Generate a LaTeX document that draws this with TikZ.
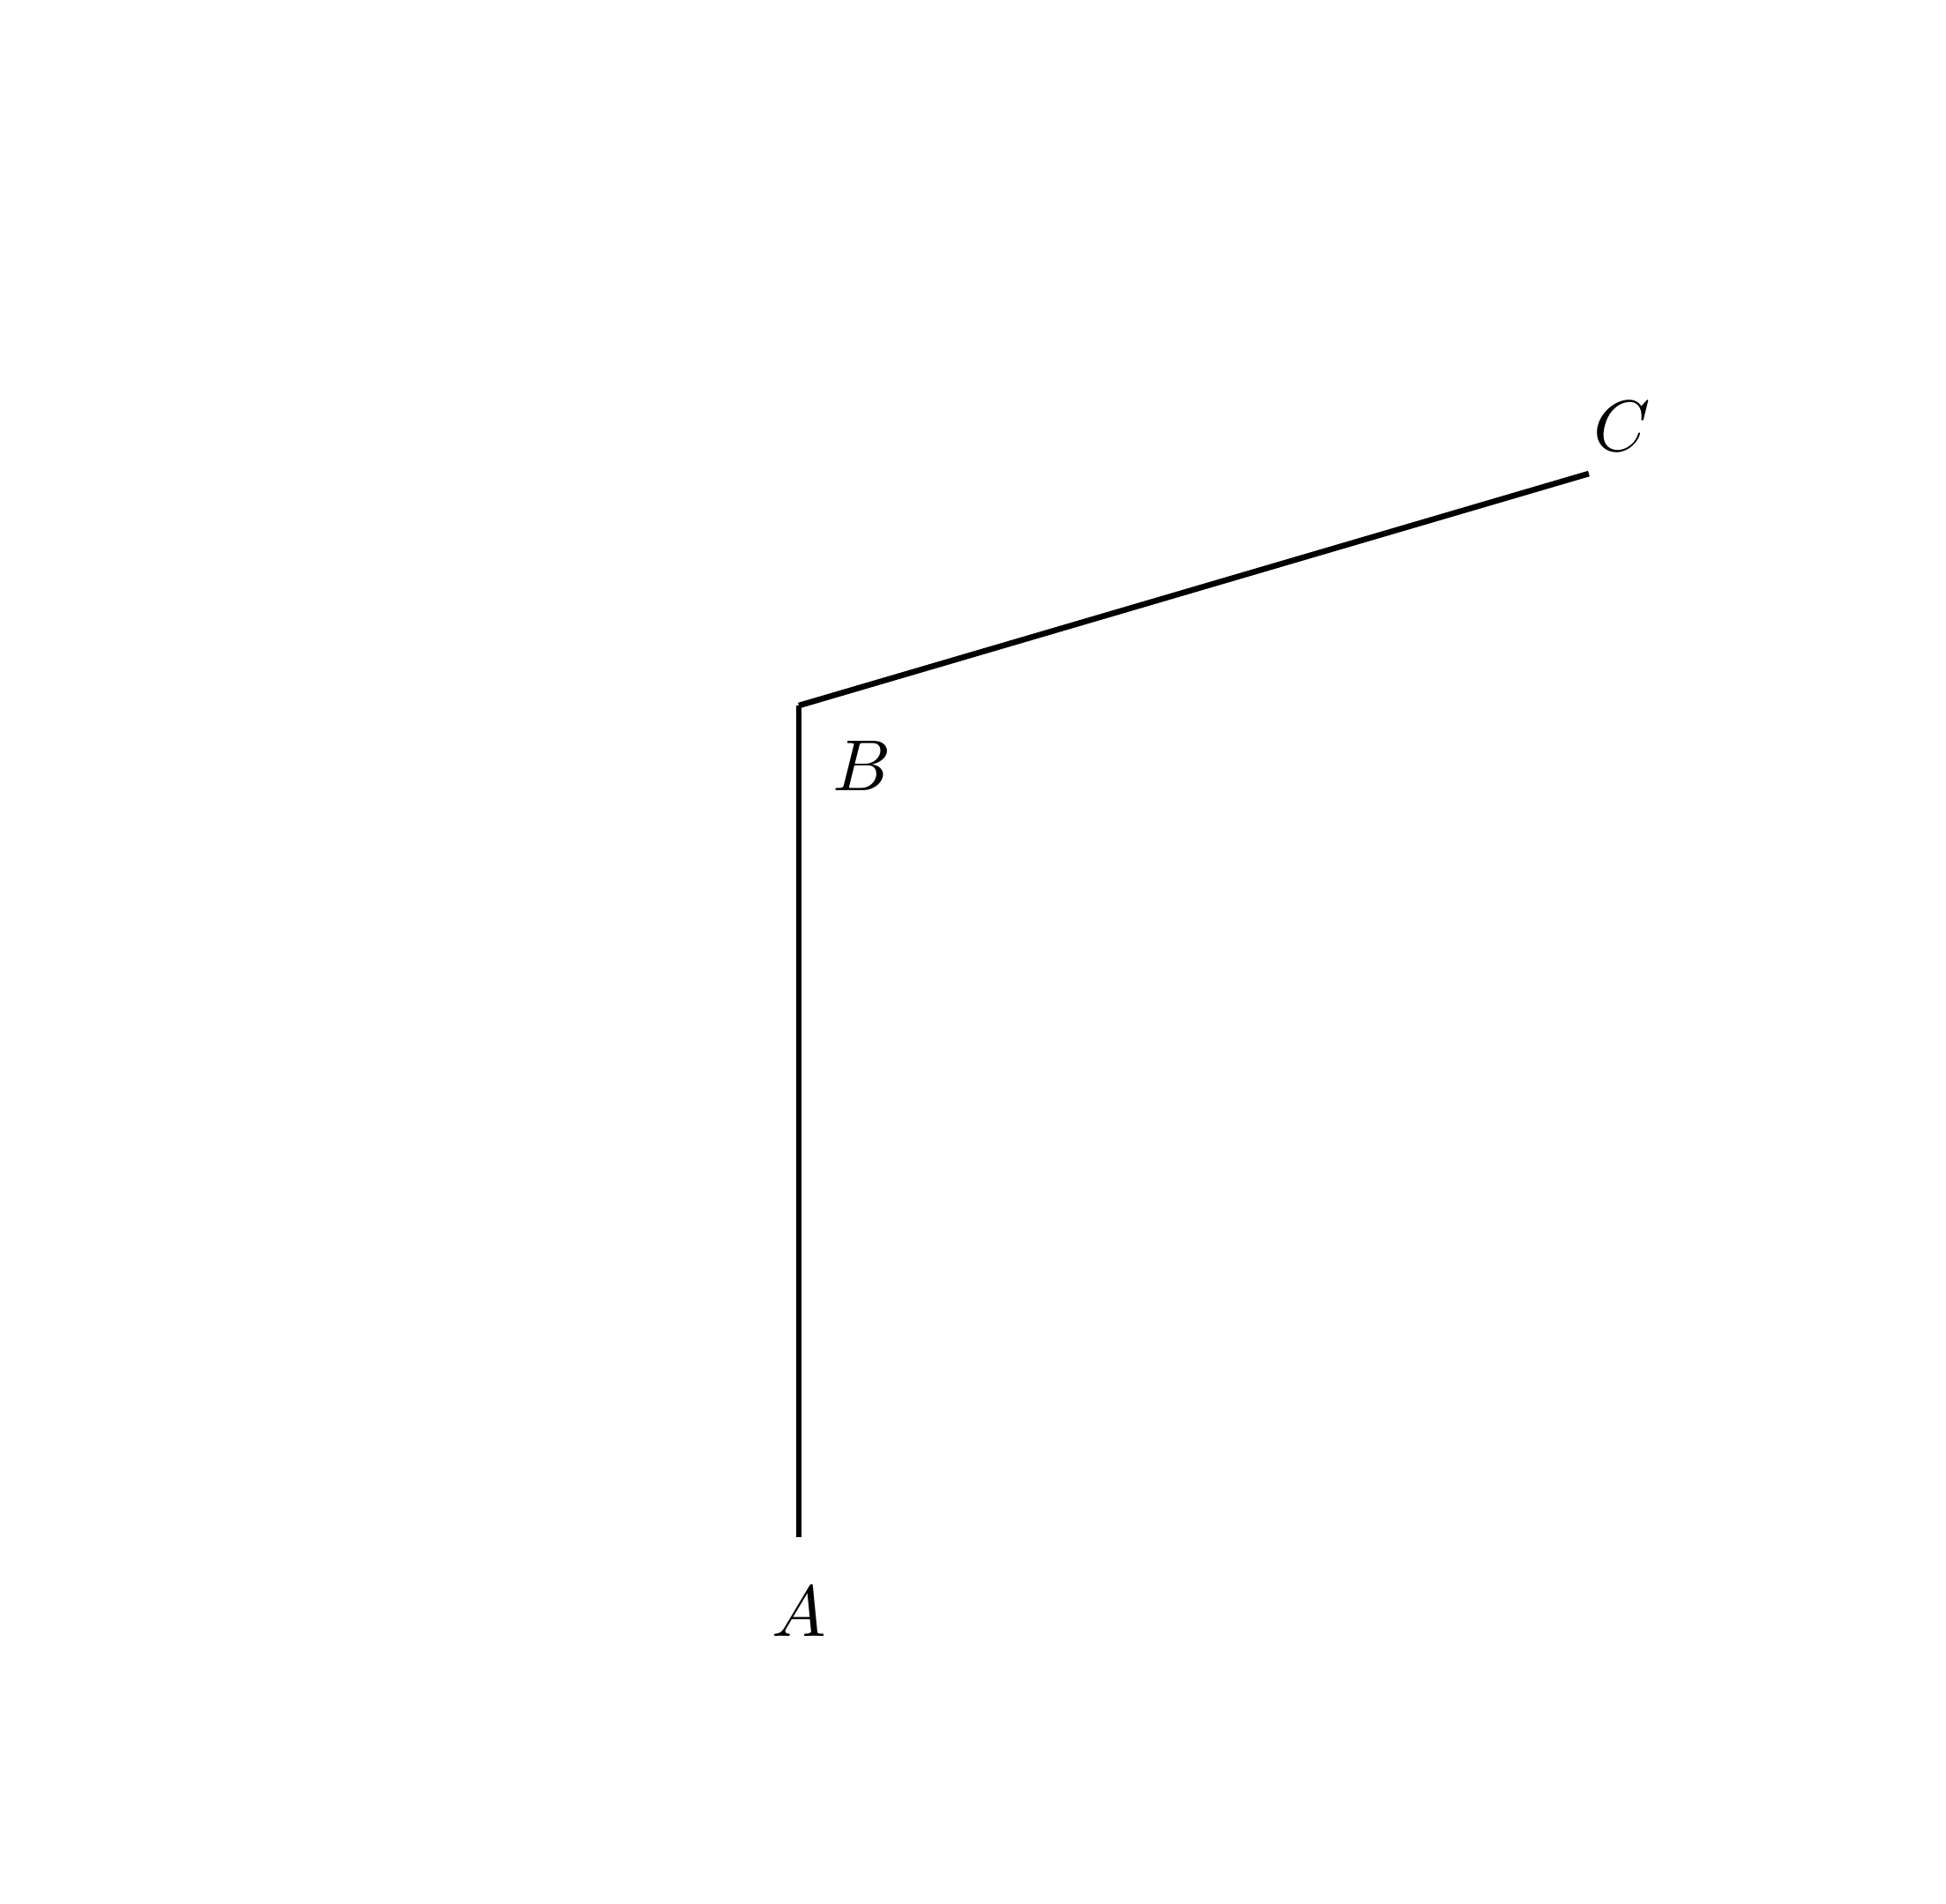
\documentclass[tikz,border=0pt]{standalone}
\usepackage{amsmath}
\usepackage{amssymb}
\usepackage{tikz}
\usetikzlibrary{calc}
\usepackage{tkz-euclide}

\begin{document}
\begin{tikzpicture}[scale=0.4289]
		\useasboundingbox (0,0) rectangle (22.07,21.59);
		\tkzDefPoint(9.06,4.16){A}
		\tkzDefPoint(9.06,13.59){B}
		\tkzDefPoint(18.02,16.22){C}
		%\tkzDrawPoints(A,B,C)
		\tkzDrawSegment[line width=0.8,line cap=butt](A,B)
		\tkzDrawSegment[line width=0.8,line cap=butt](B,C)
		\tkzLabelPoint[below=3.4pt](A){$A$}
		\tkzLabelPoint[below right=1.4pt and 1.2pt](B){$B$}
		\tkzLabelPoint[above right=-0.4pt and -2.9pt](C){$C$}
	\end{tikzpicture}
\end{document}
